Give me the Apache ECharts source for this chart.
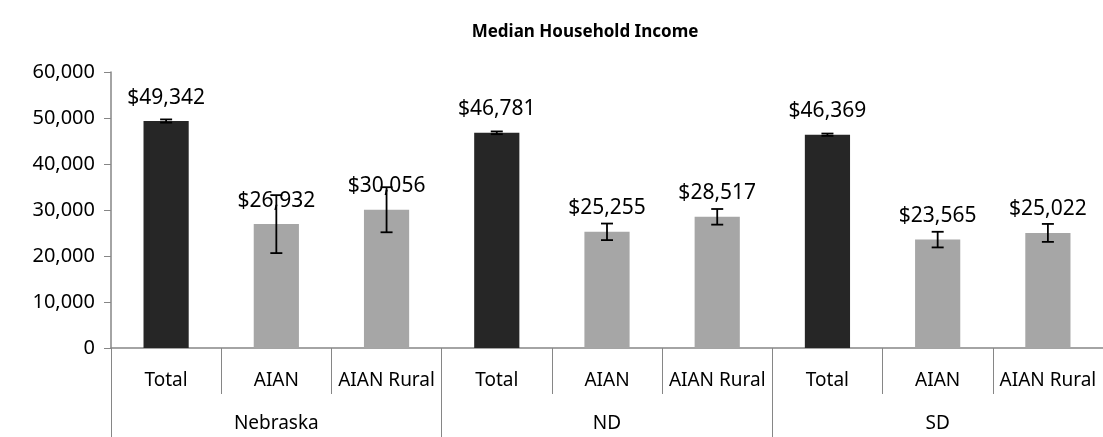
<!DOCTYPE html>
<html>
<head>
<meta charset="utf-8">
<script src="https://cdn.jsdelivr.net/npm/echarts@6/dist/echarts.min.js"></script>
<style>
  html, body { margin: 0; padding: 0; background: #fff; }
  #chart { width: 1103px; height: 437px; }
</style>
</head>
<body>
<div id="chart"></div>
<script>
// categories (sub level and group level)
const subCategories = ['Total', 'AIAN', 'AIAN Rural', 'Total', 'AIAN', 'AIAN Rural', 'Total', 'AIAN', 'AIAN Rural']
const groups = ['Nebraska', 'ND', 'SD']

// median household income and margin of error
const incomes = [49342, 26932, 30056, 46781, 25255, 28517, 46369, 23565, 25022]
const margins = [350, 6300, 4900, 300, 1800, 1700, 250, 1700, 1950]

const FONT = '"Noto Sans", sans-serif'
const darkColor = '#262626'
const lightColor = '#a6a6a6'
const axisGray = '#868686'

const chart = echarts.init(document.getElementById('chart'))

// Total bars are dark, AIAN bars are gray
const barData = incomes.map((v, i) => ({
    value: v,
    itemStyle: { color: subCategories[i] === 'Total' ? darkColor : lightColor },
}))

const errorData = incomes.map((v, i) => [i, v - margins[i], v + margins[i]])

chart.setOption({
    animation: false,
    title: {
        text: 'Median Household Income',
        left: 580,
        top: 19,
        textAlign: 'center',
        textStyle: { fontFamily: FONT, fontSize: 17, fontWeight: 'bold', color: '#000' },
    },
    grid: { left: 111, right: -2, top: 72, bottom: 89 },
    xAxis: [
        {
            type: 'category',
            data: subCategories,
            axisLine: { lineStyle: { color: axisGray, width: 1.5 } },
            axisTick: { show: true, interval: 0, length: 46, lineStyle: { color: axisGray } },
            axisLabel: { interval: 0, margin: 23, fontFamily: FONT, fontSize: 19, color: '#000' },
        },
        {
            type: 'category',
            data: groups,
            position: 'bottom',
            axisLine: { show: false },
            axisTick: { show: true, interval: 0, length: 90, lineStyle: { color: axisGray } },
            axisLabel: { interval: 0, margin: 66, fontFamily: FONT, fontSize: 19, color: '#000' },
        },
    ],
    yAxis: {
        type: 'value',
        min: 0,
        max: 60000,
        interval: 10000,
        splitLine: { show: false },
        axisLine: { show: true, lineStyle: { color: axisGray, width: 1.5 } },
        axisTick: { show: true, length: 7, lineStyle: { color: axisGray } },
        axisLabel: {
            margin: 16,
            fontFamily: FONT,
            fontSize: 20,
            color: '#000',
            formatter: (v) => v.toLocaleString('en-US'),
        },
    },
    series: [
        {
            type: 'bar',
            xAxisIndex: 0,
            data: barData,
            barWidth: '41%',
            label: {
                show: true,
                position: 'top',
                distance: 13,
                fontFamily: FONT,
                fontSize: 21,
                color: '#000',
                formatter: (p) => '$' + p.value.toLocaleString('en-US'),
            },
        },
        {
            // error bars
            type: 'custom',
            xAxisIndex: 0,
            z: 5,
            data: errorData,
            renderItem: (params, api) => {
                const lo = api.coord([api.value(0), api.value(1)])
                const hi = api.coord([api.value(0), api.value(2)])
                const cap = 6
                const style = { stroke: '#000', lineWidth: 1.8 }
                return {
                    type: 'group',
                    children: [
                        { type: 'line', shape: { x1: lo[0], y1: lo[1], x2: hi[0], y2: hi[1] }, style },
                        { type: 'line', shape: { x1: lo[0] - cap, y1: lo[1], x2: lo[0] + cap, y2: lo[1] }, style },
                        { type: 'line', shape: { x1: hi[0] - cap, y1: hi[1], x2: hi[0] + cap, y2: hi[1] }, style },
                    ],
                }
            },
        },
    ],
})
</script>
</body>
</html>
